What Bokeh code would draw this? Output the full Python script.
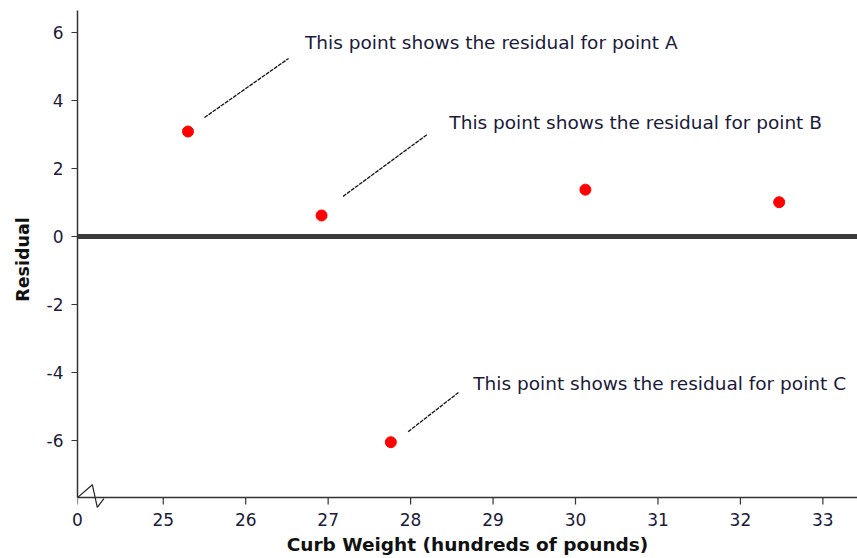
from bokeh.plotting import figure
from bokeh.models import Span, FixedTicker
from bokeh.embed import file_html
from bokeh.resources import INLINE
from bokeh.core.properties import value

# data
curb_weight = [25.30, 26.92, 27.76, 30.12, 32.47]
residual = [3.09, 0.62, -6.05, 1.38, 1.01]

x_break = 23.96          # axis break position, labelled "0"
x_ticks = [x_break, 25, 26, 27, 28, 29, 30, 31, 32, 33]
y_ticks = [-6, -4, -2, 0, 2, 4, 6]
y_axis_base = -7.68      # value where the x axis line sits
y_top = 6.65

# annotations: text, text anchor (data), leader start/end (data)
ann_text = ["This point shows the residual for point A",
            "This point shows the residual for point B",
            "This point shows the residual for point C"]
ann_tx = [26.72, 28.47, 28.76]
ann_ty = [5.71, 3.35, -4.31]
lead_x0 = [25.50, 27.18, 27.97]
lead_y0 = [3.50, 1.18, -5.74]
lead_x1 = [26.52, 28.20, 28.58]
lead_y1 = [5.24, 3.00, -4.59]

# axis break zigzag
break_x = [23.96, 24.14, 24.20, 24.28]
break_y = [-7.68, -7.30, -7.97, -7.71]

FONT = "DejaVu Sans"
PX = 1 / 34.0            # one screen pixel in y data units
TICK_LEN = 7 * PX

p = figure(width=857, height=558, output_backend="svg", toolbar_location=None,
           x_range=(x_break, 33.42), y_range=(-8.0, y_top),
           min_border_left=77, min_border_right=0, min_border_top=10, min_border_bottom=50)
p.outline_line_color = None
p.grid.visible = False
p.background_fill_color = "white"

# x axis: labels from the axis, line + ticks drawn at the axis base value
p.xaxis.ticker = FixedTicker(ticks=x_ticks)
p.xaxis.major_label_overrides = {x_break: "0"}
p.xaxis.axis_line_color = None
p.xaxis.major_tick_line_color = None
p.xaxis.major_tick_out = 0
p.xaxis.major_tick_in = 0

p.yaxis.ticker = FixedTicker(ticks=y_ticks)
p.yaxis.major_label_overrides = {t: str(t) for t in y_ticks}
p.yaxis.bounds = (y_axis_base, y_top)
p.yaxis.axis_line_color = "#333333"
p.yaxis.axis_line_width = 1.5
p.yaxis.major_tick_line_color = "#333333"
p.yaxis.major_tick_line_width = 1.2
p.yaxis.major_tick_out = 6
p.yaxis.major_tick_in = 0

for ax in (p.xaxis, p.yaxis):
    ax.minor_tick_line_color = None
    ax.major_label_text_font = FONT
    ax.major_label_text_font_size = "17px"
    ax.major_label_text_color = "#1a1a3a"
    ax.axis_label_text_font = FONT
    ax.axis_label_text_font_style = "bold"
    ax.axis_label_text_color = "#111111"
p.xaxis.axis_label = "Curb Weight (hundreds of pounds)"
p.yaxis.axis_label = "Residual"
p.xaxis.axis_label_text_font_size = "18.5px"
p.yaxis.axis_label_text_font_size = "17.5px"
p.xaxis.major_label_standoff = 4
p.xaxis.axis_label_standoff = 5
p.yaxis.major_label_standoff = 8
p.yaxis.axis_label_standoff = 11

# x axis line and tick marks
p.add_layout(Span(location=y_axis_base, dimension="width", line_color="#333333", line_width=1.5))
p.segment(x0=x_ticks, y0=[y_axis_base] * len(x_ticks), x1=x_ticks,
          y1=[y_axis_base - TICK_LEN] * len(x_ticks), line_color="#333333", line_width=1.2)

# zero line
p.add_layout(Span(location=0, dimension="width", line_color="#3a3a3a", line_width=5))

# axis break
p.line(break_x, break_y, line_color="#222222", line_width=1.2)

# annotations
p.segment(x0=lead_x0, y0=lead_y0, x1=lead_x1, y1=lead_y1, line_color="#111111",
          line_width=1.3, line_dash="4 1")
p.text(x=ann_tx, y=ann_ty, text=ann_text, text_font=value(FONT), text_font_size="18.5px",
       text_color="#1a1a3a", text_baseline="alphabetic", text_align="left")

p.scatter(curb_weight, residual, size=11, fill_color="#ff0000", line_color="#ff0000")

open("out.html", "w").write(file_html(p, INLINE))
